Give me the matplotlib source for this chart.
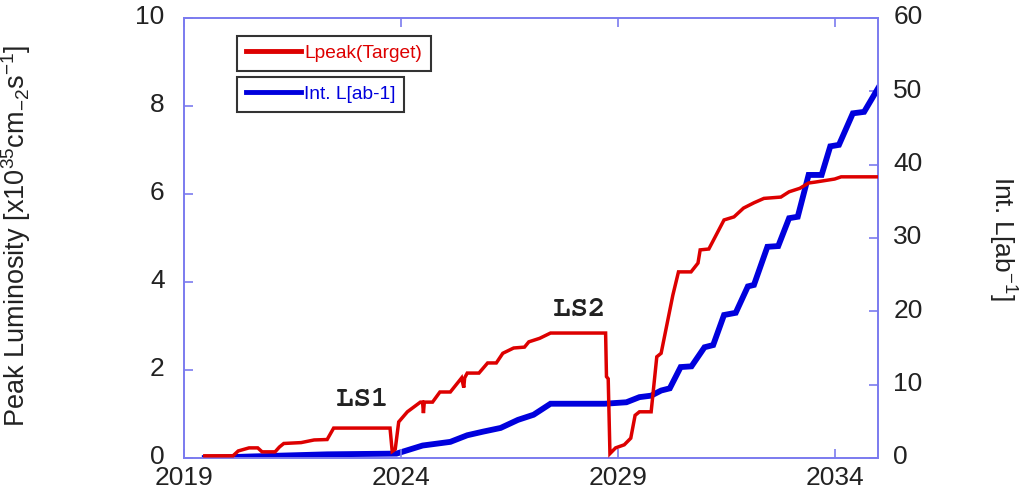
import matplotlib
matplotlib.use("Agg")
import matplotlib.pyplot as plt
from matplotlib.lines import Line2D
from matplotlib import font_manager as fm
import matplotlib.transforms as mtransforms

plt.rcParams['font.family'] = ['Liberation Sans', 'DejaVu Sans']
plt.rcParams['mathtext.fontset'] = 'custom'
plt.rcParams['mathtext.rm'] = 'Liberation Sans'
plt.rcParams['mathtext.it'] = 'Liberation Sans'
plt.rcParams['mathtext.default'] = 'regular'

# Peak luminosity (x10^35 cm^-2 s^-1)
peak_year = [2019.48, 2020.13, 2020.25, 2020.5, 2020.7, 2020.8, 2021.1, 2021.2, 2021.3, 2021.7,
             2022.0, 2022.3, 2022.45, 2023.75, 2023.8, 2023.87, 2023.95, 2024.15, 2024.45, 2024.5,
             2024.52, 2024.54, 2024.73, 2024.9, 2025.14, 2025.4, 2025.45, 2025.47, 2025.53, 2025.8,
             2026.0, 2026.2, 2026.35, 2026.6, 2026.85, 2026.95, 2027.2, 2027.45, 2028.72, 2028.74,
             2028.78, 2028.82, 2028.95, 2029.15, 2029.3, 2029.4, 2029.5, 2029.77, 2029.9, 2030.0,
             2030.27, 2030.4, 2030.69, 2030.85, 2030.9, 2031.1, 2031.45, 2031.68, 2031.9, 2032.14,
             2032.37, 2032.76, 2032.95, 2033.2, 2033.4, 2033.55, 2034.0, 2034.15, 2035.0]
peak_lumi = [0.05, 0.05, 0.16, 0.23, 0.23, 0.14, 0.14, 0.25, 0.33, 0.35,
             0.41, 0.42, 0.68, 0.68, 0.15, 0.20, 0.82, 1.05, 1.27, 1.27,
             1.02, 1.27, 1.27, 1.50, 1.50, 1.82, 1.60, 1.82, 1.93, 1.93,
             2.16, 2.16, 2.38, 2.50, 2.52, 2.64, 2.72, 2.84, 2.84, 1.85,
             1.80, 0.10, 0.23, 0.30, 0.45, 0.97, 1.05, 1.05, 2.30, 2.38,
             3.70, 4.23, 4.23, 4.43, 4.73, 4.75, 5.41, 5.48, 5.68, 5.80,
             5.90, 5.93, 6.05, 6.13, 6.25, 6.27, 6.34, 6.39, 6.39]

# Integrated luminosity (ab^-1)
int_year = [2019.48, 2020.5, 2022.3, 2023.9, 2024.5, 2025.14, 2025.53, 2025.9, 2026.3, 2026.7,
            2027.06, 2027.45, 2028.7, 2029.2, 2029.5, 2029.77, 2030.0, 2030.2, 2030.45, 2030.7,
            2031.0, 2031.2, 2031.45, 2031.72, 2032.0, 2032.14, 2032.45, 2032.7, 2032.95, 2033.15,
            2033.4, 2033.7, 2033.9, 2034.1, 2034.42, 2034.68, 2035.0]
int_lumi = [0.0, 0.2, 0.5, 0.6, 1.7, 2.2, 3.1, 3.6, 4.1, 5.2,
            5.9, 7.4, 7.4, 7.6, 8.3, 8.5, 9.2, 9.5, 12.4, 12.5,
            15.1, 15.4, 19.5, 19.8, 23.4, 23.6, 28.8, 28.9, 32.7, 32.9,
            38.6, 38.6, 42.5, 42.7, 47.0, 47.2, 50.4]

x_ticks = [2019, 2024, 2029, 2034]
left_ticks = [0, 2, 4, 6, 8, 10]
right_ticks = [0, 10, 20, 30, 40, 50, 60]

spine_c = '#7b7bef'
red = '#dd0000'
blue = '#0000dd'
txt = '#222222'

fig = plt.figure(figsize=(10.28, 4.97), dpi=100)
ax = fig.add_axes([184/1028, 39/497, 694/1028, 440/497])
ax2 = ax.twinx()

ax.plot(peak_year, peak_lumi, color=red, lw=2.5, solid_joinstyle='miter', zorder=3)
ax2.plot(int_year, int_lumi, color=blue, lw=4.2, solid_joinstyle='miter', zorder=2)
ax.set_zorder(ax2.get_zorder() + 1)
ax.patch.set_visible(False)

ax.set_xlim(2019, 2035)
ax.set_ylim(0, 10)
ax2.set_ylim(0, 60)
ax.set_xticks(x_ticks)
ax.set_yticks(left_ticks)
ax2.set_yticks(right_ticks)

for a in (ax, ax2):
    for s in a.spines.values():
        s.set_color(spine_c)
        s.set_linewidth(1.2)
ax.tick_params(axis='x', direction='in', length=6.5, width=1.2, color=spine_c,
               labelsize=19, labelcolor=txt, pad=6, top=True)
ax.tick_params(axis='y', direction='in', length=6.5, width=1.2, color=spine_c,
               labelsize=19, labelcolor=txt, pad=14)
ax2.tick_params(axis='y', direction='in', length=6.5, width=1.2, color=spine_c,
                labelsize=19, labelcolor=txt, pad=11)
shift = mtransforms.ScaledTranslation(0, 3/100, fig.dpi_scale_trans)
for lab in ax.get_yticklabels() + ax2.get_yticklabels():
    lab.set_transform(lab.get_transform() + shift)

ax.set_ylabel(r'Peak Luminosity [x10$^{35}$cm$_{-2}$s$^{-1}$]', fontsize=19.5, color=txt)
ax.yaxis.set_label_coords(-0.218, 0.505)
ax2.set_ylabel(r'Int. L[ab$^{-1}$]', fontsize=19, color=txt, rotation=270, va='center')
ax2.yaxis.set_label_coords(1.179, 0.5)

mono_fp = None
for name in ['FreeMono', 'Courier Prime', 'Liberation Mono', 'DejaVu Sans Mono']:
    try:
        f = fm.findfont(fm.FontProperties(family=name, weight='bold'),
                        fallback_to_default=False)
        mono_fp = fm.FontProperties(fname=f, size=21)
        break
    except Exception:
        continue
if mono_fp is None:
    mono_fp = fm.FontProperties(family='monospace', weight='bold', size=21)

ax.text(2023.1, 1.32, 'LS1', fontproperties=mono_fp, color=txt, ha='center', va='center')
ax.text(2028.1, 3.36, 'LS2', fontproperties=mono_fp, color=txt, ha='center', va='center')

def make_leg(label, color, anchor):
    h = Line2D([], [], color=color, lw=3.5)
    leg = fig.legend([h], [label], loc='upper left', bbox_to_anchor=anchor,
                     bbox_transform=fig.transFigure, fontsize=13.8, frameon=True,
                     fancybox=False, handlelength=2.9, handletextpad=0.15,
                     borderpad=0.45, borderaxespad=0, labelcolor=color)
    fr = leg.get_frame()
    fr.set_edgecolor('black')
    fr.set_linewidth(1.5)
    return leg

make_leg('Lpeak(Target)', red, (237/1028, 1 - 36/497))
make_leg('Int. L[ab-1]', blue, (237/1028, 1 - 77/497))

fig.savefig('out.png', dpi=100)
